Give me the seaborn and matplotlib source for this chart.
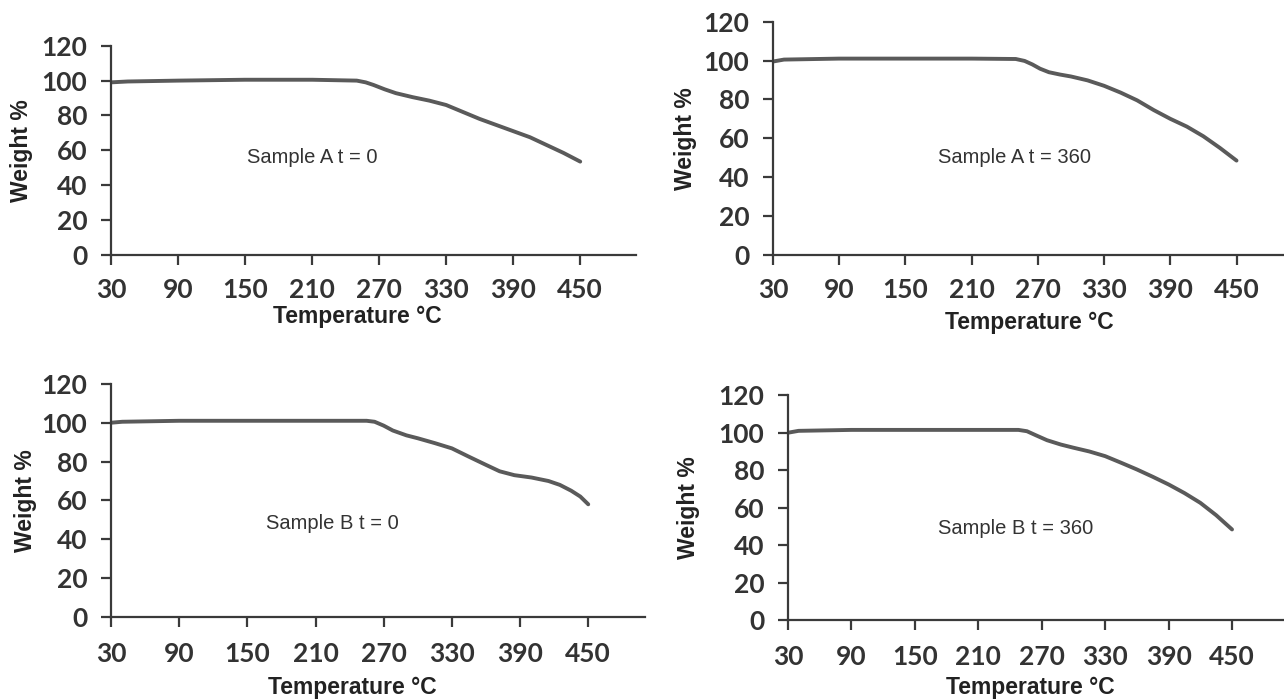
import numpy as np
import pandas as pd
import matplotlib
matplotlib.use("Agg")
import matplotlib.pyplot as plt
import seaborn as sns

sns.set_theme(style="ticks")
plt.rcParams['font.family'] = ['Liberation Sans', 'DejaVu Sans']

x_ticks = [30, 90, 150, 210, 270, 330, 390, 450]
y_ticks = [0, 20, 40, 60, 80, 100, 120]

temp_a0 = [30, 45, 90, 150, 210, 250, 258, 265, 275, 285, 300, 315, 330, 345, 360, 375, 390, 405, 420, 435, 450]
wt_a0 = [99, 99.5, 100, 100.5, 100.5, 100, 99, 97.5, 95, 92.8, 90.5, 88.5, 86, 82, 78, 74.5, 71, 67.5, 63, 58.5, 53.5]

temp_a360 = [30, 40, 90, 150, 210, 250, 258, 265, 272, 280, 290, 300, 315, 330, 345, 360, 375, 390, 405, 420, 435, 450]
wt_a360 = [99.5, 100.5, 101, 101, 101, 100.8, 99.8, 98, 95.8, 94, 92.8, 91.8, 89.8, 87, 83.5, 79.5, 74.5, 70, 66, 61, 55, 48.5]

temp_b0 = [30, 40, 90, 150, 210, 255, 262, 270, 278, 290, 300, 315, 330, 345, 360, 372, 385, 400, 415, 425, 435, 443, 450]
wt_b0 = [100, 100.5, 101, 101, 101, 101, 100.5, 98.5, 96, 93.5, 92, 89.5, 86.8, 82.5, 78.3, 75, 73, 71.8, 70, 68, 65, 62, 58]

temp_b360 = [30, 40, 90, 150, 210, 248, 256, 265, 275, 288, 300, 315, 330, 345, 360, 375, 390, 405, 420, 435, 450]
wt_b360 = [100, 101, 101.5, 101.5, 101.5, 101.5, 100.8, 98.5, 96, 93.7, 92, 90, 87.5, 84, 80.4, 76.5, 72.4, 67.8, 62.6, 56, 48.4]

labels = ["Sample A t = 0", "Sample A t = 360", "Sample B t = 0", "Sample B t = 360"]
series = [(temp_a0, wt_a0), (temp_a360, wt_a360), (temp_b0, wt_b0), (temp_b360, wt_b360)]

# layout: [left, bottom, width, height] in figure fraction
rects = [
    [0.0864, 0.636, 0.409, 0.2986],
    [0.602, 0.636, 0.404, 0.333],
    [0.0864, 0.1186, 0.416, 0.333],
    [0.6137, 0.114, 0.387, 0.3214],
]
text_pos = [(210, 56), (249, 50), (225, 48), (245, 49)]
ylab_x = [-0.149, -0.146, -0.139, -0.177]
xlab_xy = [(0.47, -0.24), (0.495, -0.24), (0.451, -0.253), (0.487, -0.249)]
xpads = [9.5, 10, 11, 11]

fig = plt.figure(figsize=(12.84, 7.0), dpi=100)
spine_col = "#3a3a3a"
line_col = "#5a5a5a"

for i in range(4):
    ax = fig.add_axes(rects[i])
    df = pd.DataFrame({"Temperature": series[i][0], "Weight": series[i][1]})
    sns.lineplot(data=df, x="Temperature", y="Weight", ax=ax, color=line_col,
                 linewidth=2.8, solid_capstyle="round", solid_joinstyle="round")
    ax.set_xlim(30, 500)
    ax.set_ylim(0, 120)
    ax.set_xticks(x_ticks)
    ax.set_yticks(y_ticks)
    ax.set_xticklabels([str(v) for v in x_ticks], fontfamily="Lato", fontweight="bold",
                       fontsize=19, color="#333333")
    ax.set_yticklabels([str(v) for v in y_ticks], fontfamily="Lato", fontweight="bold",
                       fontsize=19, color="#333333")
    for s in ["top", "right"]:
        ax.spines[s].set_visible(False)
    for s in ["left", "bottom"]:
        ax.spines[s].set_color(spine_col)
        ax.spines[s].set_linewidth(1.6)
    ax.tick_params(axis="x", direction="out", length=7, width=1.6, color=spine_col, pad=xpads[i])
    ax.tick_params(axis="y", direction="out", length=7, width=1.6, color=spine_col, pad=10)
    ax.set_xlabel("Temperature °C", fontsize=16.5, fontweight="bold", color="#222222")
    ax.set_ylabel("Weight %", fontsize=16.5, fontweight="bold", color="#222222")
    ax.yaxis.set_label_coords(ylab_x[i], 0.5)
    ax.xaxis.set_label_coords(*xlab_xy[i])
    ax.text(text_pos[i][0], text_pos[i][1], labels[i], fontsize=14.5, color="#333333",
            ha="center", va="center")
    ax.set_facecolor("none")
    ax.grid(False)

fig.savefig("out.png", dpi=100, facecolor="white")
